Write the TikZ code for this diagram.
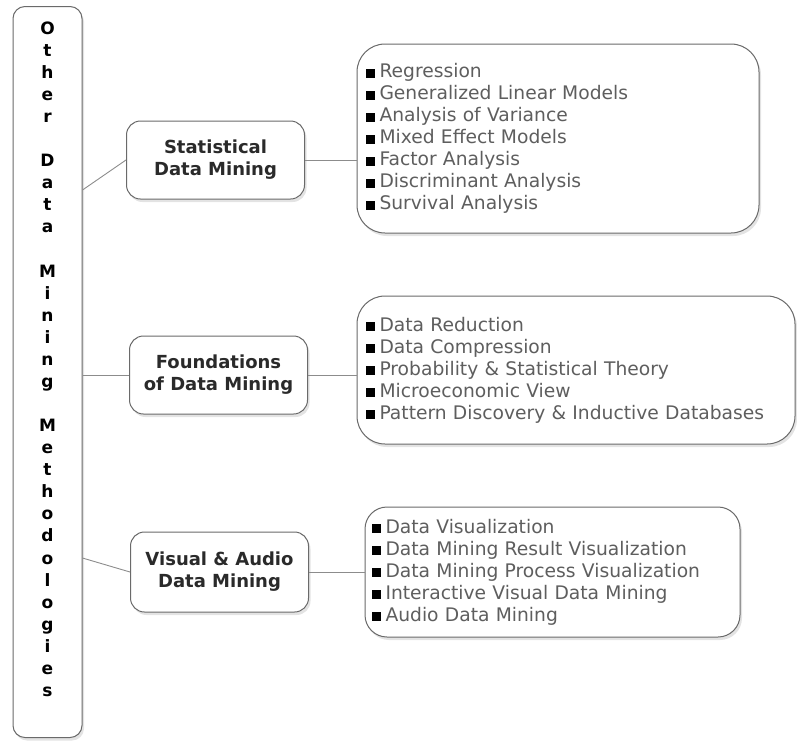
\documentclass[tikz,border=0pt]{standalone}
\usepackage{fontspec}
\setmainfont{DejaVu Sans}
\usetikzlibrary{positioning,shadows}
\definecolor{framegray}{HTML}{6A6A6A}
\definecolor{linkgray}{HTML}{8C8C8C}
\definecolor{itemgray}{HTML}{5E5E5E}
\definecolor{headgray}{HTML}{2A2A2A}
\tikzset{softshadow/.style={drop shadow={opacity=0.22,shadow xshift=2pt,shadow yshift=-3pt}},
    sidebox/.style={draw=framegray,line width=1pt,rounded corners=12pt,fill=white,softshadow,minimum width=69pt,minimum height=731pt},
    sideletters/.style={align=center,inner sep=0,text=black,font=\bfseries\fontsize{17}{22.07}\selectfont},
    topicbox/.style={draw=framegray,line width=1pt,rounded corners=14pt,fill=white,softshadow,minimum width=178pt,minimum height=78pt,align=center,text=headgray,font=\bfseries\fontsize{18}{22}\selectfont},
    listbox/.style={draw=framegray,line width=1pt,fill=white,softshadow,align=left,text=itemgray,inner xsep=9pt,font=\fontsize{18.7}{22}\selectfont},
    link/.style={draw=linkgray,line width=0.9pt}
}
\newcommand{\bitem}{{\color{black}\rule{9pt}{9pt}}\hspace{4.5pt}}

\begin{document}
\begin{tikzpicture}[x=1pt,y=-1pt]

\useasboundingbox (0,0) rectangle (797,740);

% left column
\node (side) at (47.5,372) [sidebox] {};
\node (sidetext) at (47.5,21.5) [sideletters,anchor=north]
    {O\\t\\h\\e\\r\\[22.07pt]D\\a\\t\\a\\[22.07pt]M\\i\\n\\i\\n\\g\\[22.07pt]M\\e\\t\\h\\o\\d\\o\\l\\o\\g\\i\\e\\s};

%% topics
\node (stat) at (215.5,160) [topicbox] {Statistical\\Data Mining};
\node (found) at (218.5,375) [topicbox] {Foundations\\of Data Mining};
\node (visual) at (219.5,572) [topicbox,minimum height=80pt] {Visual \& Audio\\Data Mining};

%% lists
\node (statlist) at (558,138.5) [listbox,rounded corners=28pt,text width=384pt,minimum height=189pt]
    {\bitem Regression\\\bitem Generalized Linear Models\\\bitem Analysis of Variance\\\bitem Mixed Effect Models\\\bitem Factor Analysis\\\bitem Discriminant Analysis\\\bitem Survival Analysis};
\node (foundlist) at (576,370) [listbox,rounded corners=28pt,text width=420pt,minimum height=148pt]
    {\bitem Data Reduction\\\bitem Data Compression\\\bitem Probability \& Statistical Theory\\\bitem Microeconomic View\\\bitem Pattern Discovery \& Inductive Databases};
\node (visuallist) at (552.5,572) [listbox,rounded corners=22pt,inner xsep=7pt,text width=361pt,minimum height=130pt]
    {\bitem Data Visualization\\\bitem Data Mining Result Visualization\\\bitem Data Mining Process Visualization\\\bitem Interactive Visual Data Mining\\\bitem Audio Data Mining};

% connectors
\draw [link] ([yshift=-30pt]stat.west -| side.east) -- (stat.west);
\draw [link] (found.west -| side.east) -- (found.west);
\draw [link] ([yshift=14pt]visual.west -| side.east) -- (visual.west);

\draw [link] (stat.east) -- (stat.east -| statlist.west);
\draw [link] (found.east) -- (found.east -| foundlist.west);
\draw [link] (visual.east) -- (visual.east -| visuallist.west);

\end{tikzpicture}
\end{document}
